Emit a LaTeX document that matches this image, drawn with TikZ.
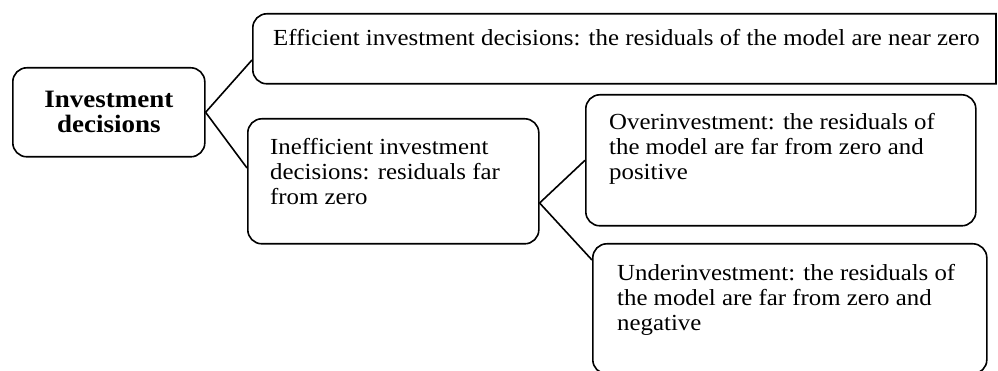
\documentclass[tikz,border=0pt]{standalone}
\usepackage{fontspec}
\setmainfont{Liberation Serif}[FakeStretch=1.08]
\usetikzlibrary{calc}
\begin{document}
\begin{tikzpicture}[x=1pt,y=-1pt,
  box/.style={draw, line width=1.6pt, rounded corners=14pt, inner sep=0pt, anchor=north west},
  txt/.style={font=\fontsize{23}{25}\selectfont, align=left, anchor=base west, inner sep=0pt},
  link/.style={line width=1.6pt}]
\path[use as bounding box, clip] (0,0) rectangle (998,371);
% boxes
\node[box, minimum width=192pt, minimum height=89pt, align=center,
      font=\bfseries\fontsize{25}{25}\selectfont] (A) at (12,67) {Investment\\decisions};
\node[box, minimum width=780pt, minimum height=70pt] (B) at (252,13) {};
\node[box, minimum width=291pt, minimum height=125pt] (C) at (247,118) {};
\node[box, minimum width=390pt, minimum height=131pt] (D) at (585,94) {};
\node[box, minimum width=394pt, minimum height=130pt] (E) at (592,243) {};
% square right edge of B
\fill[white] (996.8,0) rectangle (998,371);
\draw[link] (996,13) -- (996,83);
% texts (base = baseline of last line)
\node[txt] (Bt) at (273,46) {Efficient investment decisions: the residuals of the model are near zero};
\node[txt] (Ct) at (270,205) {Inefficient investment\\decisions: residuals far\\from zero};
\node[txt] (Dt) at (609,180) {Overinvestment: the residuals of\\the model are far from zero and\\positive};
\node[txt] (Et) at (617,330) {Underinvestment: the residuals of\\the model are far from zero and\\negative};
% connector ends
\coordinate (Bin) at ($(B.north west)+(0,47)$);
\coordinate (Cin) at ($(C.north west)+(0,50)$);
\coordinate (Cout) at ($(C.north east)+(0,85)$);
\coordinate (Ein) at ($(E.north west)+(0,17)$);
% connectors
\draw[link] (A.east) -- (Bin);
\draw[link] (A.east) -- (Cin);
\draw[link] (Cout) -- (D.west);
\draw[link] (Cout) -- (Ein);
\end{tikzpicture}
\end{document}
